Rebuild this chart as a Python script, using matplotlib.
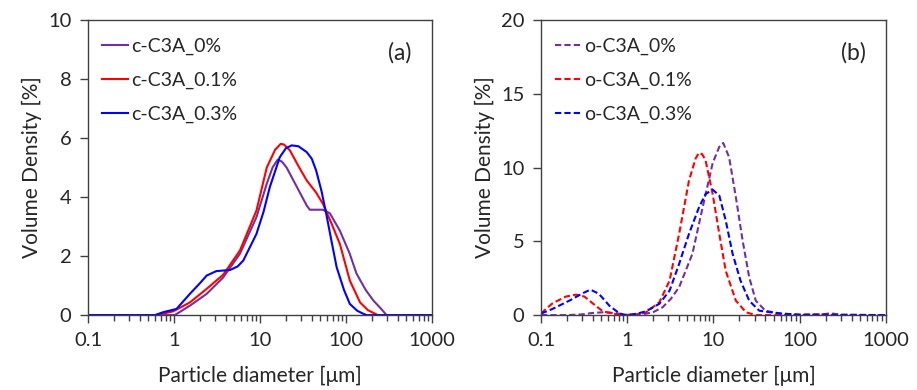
import matplotlib
matplotlib.use('Agg')
import matplotlib.pyplot as plt
from matplotlib.ticker import FixedLocator, FixedFormatter, LogLocator, NullFormatter

plt.rcParams['font.family'] = ['Lato', 'DejaVu Sans']

# --- data ---
# (a) c-C3A
c0_x = [0.1, 0.98, 1.02, 1.53, 2.4, 3.74, 5.85, 9.1, 12, 14, 16.1, 18, 20.4, 27, 35, 38, 54, 65, 85, 110, 133, 170, 209, 250, 297, 1000]
c0_y = [0, 0, 0, 0.32, 0.72, 1.28, 2.08, 3.32, 4.45, 5.0, 5.27, 5.2, 5.0, 4.33, 3.71, 3.57, 3.57, 3.45, 2.86, 2.1, 1.4, 0.85, 0.49, 0.25, 0, 0]
c1_x = [0.1, 0.63, 0.98, 1.53, 2.4, 3.74, 5.85, 9.1, 12, 15, 17.4, 19, 22.3, 28, 35, 45, 54, 68, 85, 111, 146, 180, 217, 235, 1000]
c1_y = [0, 0, 0.13, 0.43, 0.89, 1.37, 2.19, 3.54, 5.0, 5.6, 5.8, 5.78, 5.58, 5.05, 4.56, 4.15, 3.77, 3.1, 2.41, 1.17, 0.43, 0.17, 0.05, 0, 0]
c3_x = [0.1, 0.6, 0.75, 1.07, 1.53, 2.0, 2.4, 3.1, 4.5, 5.5, 6.4, 9.1, 11, 13, 17, 20, 23.4, 28, 35, 40, 45, 52, 59, 68, 78, 95, 111, 135, 158, 175, 1000]
c3_y = [0, 0, 0.1, 0.21, 0.72, 1.08, 1.34, 1.49, 1.53, 1.65, 1.85, 2.75, 3.5, 4.33, 5.35, 5.65, 5.75, 5.72, 5.52, 5.3, 4.9, 4.2, 3.43, 2.5, 1.62, 0.85, 0.38, 0.15, 0.05, 0, 0]

# (b) o-C3A
o0_x = [0.1, 0.2, 0.3, 0.4, 0.55, 0.8, 1.0, 1.5, 2.0, 2.57, 3.2, 4.0, 5.7, 7.5, 9.8, 11.7, 13.0, 15.2, 18.2, 21.8, 26, 31, 40, 60, 100, 180, 230, 300, 1000]
o0_y = [0, 0, 0.05, 0.15, 0.2, 0.1, 0.02, 0.05, 0.2, 0.53, 1.1, 1.89, 4.15, 7.3, 10.3, 11.4, 11.66, 10.7, 8.0, 5.06, 2.57, 0.98, 0.3, 0.1, 0.03, 0.05, 0.12, 0.03, 0]
o1_x = [0.1, 0.136, 0.195, 0.255, 0.318, 0.397, 0.52, 0.81, 1.0, 1.3, 1.65, 2.36, 3.1, 4.0, 5.2, 6.2, 6.8, 7.4, 8.1, 9.8, 11.7, 13.9, 18.2, 23.9, 31, 100, 200, 250, 1000]
o1_y = [0.12, 0.8, 1.26, 1.39, 1.26, 0.8, 0.26, 0.02, 0, 0.05, 0.19, 0.87, 2.34, 5.5, 9.1, 10.6, 11.0, 10.9, 10.5, 8.2, 5.5, 3.0, 0.98, 0.19, 0, 0, 0.05, 0, 0]
o3_x = [0.1, 0.136, 0.213, 0.304, 0.35, 0.38, 0.47, 0.62, 0.81, 0.97, 1.3, 1.65, 2.36, 3.1, 4.0, 5.2, 6.8, 8.1, 9.8, 11.7, 13.9, 16.7, 20.6, 26, 34, 45, 63, 100, 1000]
o3_y = [0.1, 0.42, 0.98, 1.48, 1.65, 1.71, 1.44, 0.64, 0.12, 0, 0.1, 0.26, 0.77, 1.66, 3.47, 5.5, 7.3, 8.2, 8.5, 8.1, 6.4, 4.15, 2.34, 0.98, 0.3, 0.2, 0.1, 0.03, 0]

x_ticks = [0.1, 1, 10, 100, 1000]
x_labels = ['0.1', '1', '10', '100', '1000']

purple, red, blue = '#7030A0', '#FF0000', '#0000FF'
txt = '#262626'

fig = plt.figure(figsize=(9.17, 3.9), dpi=100)
ax1 = fig.add_axes([0.096, 0.192, 0.375, 0.757])
ax2 = fig.add_axes([0.590, 0.192, 0.376, 0.757])

lw = 1.5
ax1.plot(c0_x, c0_y, color=purple, lw=lw, label='c-C3A_0%')
ax1.plot(c1_x, c1_y, color=red, lw=lw, label='c-C3A_0.1%')
ax1.plot(c3_x, c3_y, color=blue, lw=lw, label='c-C3A_0.3%')

ds = (3, 1.5)
ax2.plot(o0_x, o0_y, color=purple, lw=lw, dashes=ds, label='o-C3A_0%')
ax2.plot(o1_x, o1_y, color=red, lw=lw, dashes=ds, label='o-C3A_0.1%')
ax2.plot(o3_x, o3_y, color=blue, lw=lw, dashes=ds, label='o-C3A_0.3%')

for ax, ymax, ystep, tag in [(ax1, 10, 2, '(a)'), (ax2, 20, 5, '(b)')]:
    ax.set_xscale('log')
    ax.set_xlim(0.1, 1000)
    ax.set_ylim(0, ymax)
    ax.xaxis.set_major_locator(FixedLocator(x_ticks))
    ax.xaxis.set_major_formatter(FixedFormatter(x_labels))
    ax.xaxis.set_minor_locator(LogLocator(base=10, subs=range(2, 10)))
    ax.xaxis.set_minor_formatter(NullFormatter())
    ax.set_yticks(range(0, ymax + 1, ystep))
    ax.tick_params(axis='both', which='major', direction='out', length=6, width=1,
                   color='#404040', labelsize=14.5, labelcolor=txt, pad=6)
    ax.tick_params(axis='x', which='minor', direction='out', length=4, width=1, color='#404040')
    for s in ax.spines.values():
        s.set_color('#404040')
        s.set_linewidth(1)
    ax.set_xlabel('Particle diameter [μm]', fontsize=15, color=txt, labelpad=12)
    ax.set_ylabel('Volume Density [%]', fontsize=15, color=txt, labelpad=4)
    ax.text(0.907, 0.89, tag, transform=ax.transAxes, fontsize=16.5, color=txt,
            ha='center', va='center')
    ax.legend(loc='upper left', bbox_to_anchor=(0.0, 0.985), frameon=False,
              fontsize=14, handlelength=1.35, handletextpad=0.15, labelspacing=0.85,
              labelcolor=txt, borderaxespad=0.3)

fig.savefig('out.png', dpi=100)
